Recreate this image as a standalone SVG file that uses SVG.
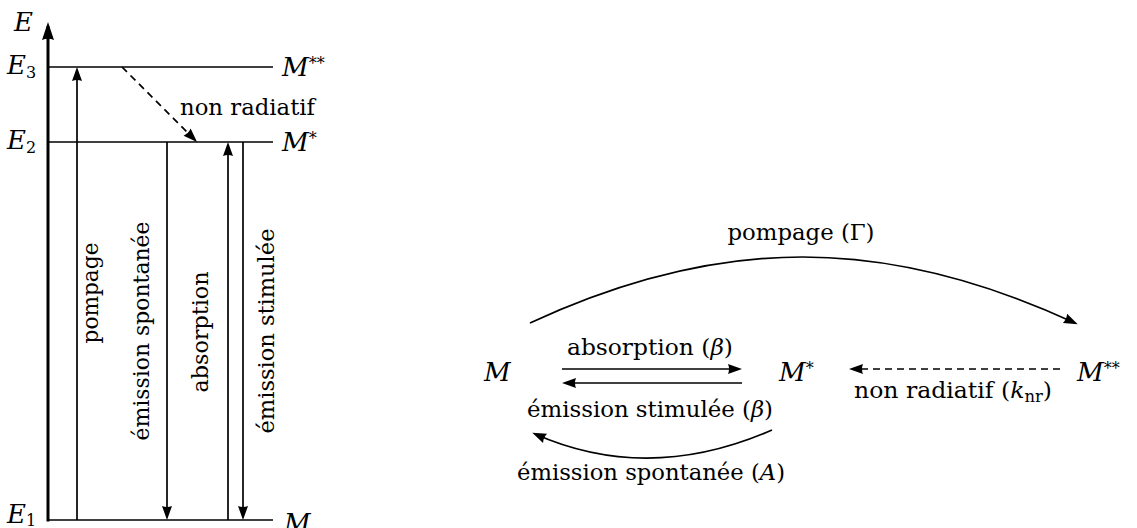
<svg xmlns="http://www.w3.org/2000/svg" width="1137" height="528" viewBox="0 0 1137 528" font-family="'DejaVu Serif', 'Liberation Serif', serif">
<style>
text{font-family:'DejaVu Serif','Liberation Serif','Noto Serif',serif;font-size:23px;fill:#000}
.it{font-style:italic}
.sub{font-size:16px}
.big{font-size:26px}
.ln{stroke:#000;stroke-width:1.7;fill:none}
.ax{stroke:#000;stroke-width:3;fill:none}
.dash{stroke-dasharray:7 5}
</style>
<defs>
<marker id="ah" viewBox="0 0 16 12" refX="13" refY="6" markerWidth="16" markerHeight="12" markerUnits="userSpaceOnUse" orient="auto">
<path d="M2,1 L16,6 L2,11 Q4,6 2,1 Z" fill="#000"/>
</marker>
<marker id="ahbig" viewBox="0 0 20 14" refX="16" refY="7" markerWidth="20" markerHeight="14" markerUnits="userSpaceOnUse" orient="auto">
<path d="M2,1 L20,7 L2,13 Q4.5,7 2,1 Z" fill="#000"/>
</marker>
</defs>
<rect width="1137" height="528" fill="#fff"/>

<!-- Left: energy level diagram -->
<g id="axis">
<line class="ax" x1="48" y1="521.5" x2="48" y2="26" marker-end="url(#ahbig)"/>
<text class="it big" x="14" y="31">E</text>
</g>
<g id="level-E3">
<line class="ln" x1="48" y1="67" x2="273" y2="67"/>
<text class="big" x="7" y="74"><tspan class="it">E</tspan><tspan class="sub" dy="4">3</tspan></text>
<text class="big" x="282" y="76"><tspan class="it">M</tspan><tspan class="sub" dy="-7">**</tspan></text>
</g>
<g id="level-E2">
<line class="ln" x1="48" y1="142" x2="273" y2="142"/>
<text class="big" x="7" y="149"><tspan class="it">E</tspan><tspan class="sub" dy="4">2</tspan></text>
<text class="big" x="282" y="151"><tspan class="it">M</tspan><tspan class="sub" dy="-7">*</tspan></text>
</g>
<g id="level-E1">
<line class="ln" x1="48" y1="520" x2="273" y2="520"/>
<text class="big" x="7" y="523"><tspan class="it">E</tspan><tspan class="sub" dy="3">1</tspan></text>
<text class="it big" x="284" y="532">M</text>
</g>

<g id="transitions">
<line class="ln" x1="77" y1="520" x2="77" y2="70" marker-end="url(#ah)"/>
<text transform="translate(98,293) rotate(-90)" text-anchor="middle" textLength="101" lengthAdjust="spacingAndGlyphs">pompage</text>
<line class="ln" x1="167" y1="142" x2="167" y2="517" marker-end="url(#ah)"/>
<text transform="translate(149,331) rotate(-90)" text-anchor="middle" textLength="219" lengthAdjust="spacingAndGlyphs">émission spontanée</text>
<line class="ln" x1="228" y1="520" x2="228" y2="145" marker-end="url(#ah)"/>
<text transform="translate(208,332) rotate(-90)" text-anchor="middle" textLength="121" lengthAdjust="spacingAndGlyphs">absorption</text>
<line class="ln" x1="243" y1="142" x2="243" y2="517" marker-end="url(#ah)"/>
<text transform="translate(274,331) rotate(-90)" text-anchor="middle" textLength="205" lengthAdjust="spacingAndGlyphs">émission stimulée</text>
<line class="ln dash" x1="122" y1="67" x2="194.9" y2="139.9" marker-end="url(#ah)"/>
<text x="247.5" y="115" text-anchor="middle" textLength="135" lengthAdjust="spacingAndGlyphs">non radiatif</text>
</g>

<!-- Right: state graph -->
<g id="node-M">
<text class="it big" x="484" y="381">M</text>
</g>
<g id="node-Mstar">
<text class="big" x="779" y="381"><tspan class="it">M</tspan><tspan class="sub" dy="-7">*</tspan></text>
</g>
<g id="node-Mstarstar">
<text class="big" x="1077" y="381"><tspan class="it">M</tspan><tspan class="sub" dy="-7">**</tspan></text>
</g>

<g id="connectors">
<path class="ln" d="M530,323 C720,235 885,235 1075,323" marker-end="url(#ah)"/>
<text x="801" y="240" text-anchor="middle" textLength="147" lengthAdjust="spacingAndGlyphs">pompage (Γ)</text>
<line class="ln" x1="562" y1="369" x2="739" y2="369" marker-end="url(#ah)"/>
<text x="650" y="355" text-anchor="middle" textLength="166" lengthAdjust="spacingAndGlyphs">absorption (<tspan class="it">β</tspan>)</text>
<line class="ln" x1="742" y1="383" x2="565" y2="383" marker-end="url(#ah)"/>
<text x="650" y="417" text-anchor="middle" textLength="246" lengthAdjust="spacingAndGlyphs">émission stimulée (<tspan class="it">β</tspan>)</text>
<path class="ln" d="M772,430 C692,465 612,468 535,434" marker-end="url(#ah)"/>
<text x="651" y="480" text-anchor="middle" textLength="268" lengthAdjust="spacingAndGlyphs">émission spontanée (<tspan class="it">A</tspan>)</text>
<line class="ln dash" x1="1060" y1="369" x2="852" y2="369" marker-end="url(#ah)"/>
<text x="953" y="398" text-anchor="middle" textLength="198" lengthAdjust="spacingAndGlyphs">non radiatif (<tspan class="it">k</tspan><tspan class="sub" dy="4">nr</tspan><tspan dy="-4">)</tspan></text>
</g>
</svg>
